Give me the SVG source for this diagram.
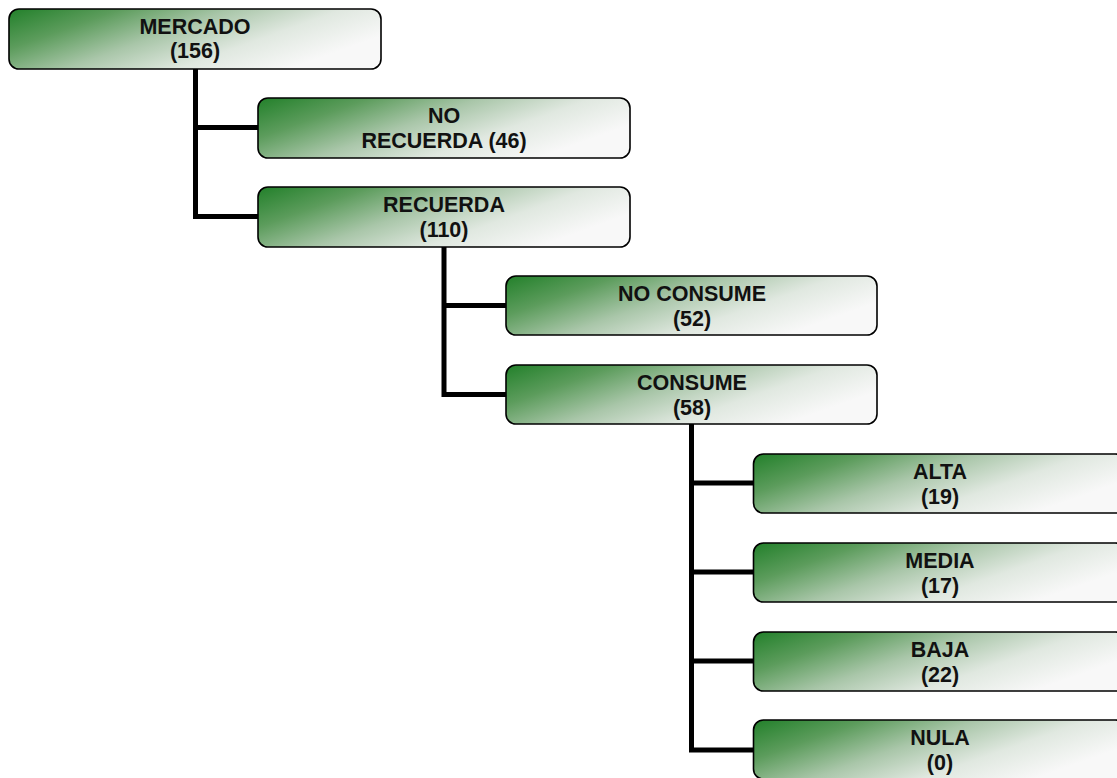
<svg xmlns="http://www.w3.org/2000/svg" width="1117" height="778" viewBox="0 0 1117 778">
  <defs>
    <linearGradient id="boxFill" x1="0" y1="0" x2="1.0" y2="0.45">
      <stop offset="0" stop-color="#22802a"/>
      <stop offset="0.25" stop-color="#5c9c5c"/>
      <stop offset="0.5" stop-color="#a9c6a9"/>
      <stop offset="0.75" stop-color="#e0e8e0"/>
      <stop offset="1" stop-color="#f8f8f8"/>
    </linearGradient>
  </defs>
  <style>
    .box { fill: url(#boxFill); stroke: #000; stroke-width: 1.6; }
    .lbl { font-family: "Liberation Sans", Arial, sans-serif; font-weight: bold; font-size: 21.5px; fill: #111; text-anchor: middle; }
    .conn { fill: none; stroke: #000; stroke-width: 5; stroke-linejoin: miter; stroke-linecap: butt; }
  </style>
  <rect width="1117" height="778" fill="#ffffff"/>

  <!-- tree connectors -->
  <g id="connectors">
    <path class="conn" d="M195.5 69 V219 M193 216.5 H259 M195.5 127.5 H259"/>
    <path class="conn" d="M444 247 V397 M441.5 394.5 H507 M444 305.5 H507"/>
    <path class="conn" d="M691.5 424 V752.5 M689 750 H754 M691.5 483 H754 M691.5 572 H754 M691.5 661 H754"/>
  </g>

  <g id="mercado">
    <rect class="box" x="9" y="9" width="372" height="60" rx="10"/>
    <text class="lbl" x="195" y="34">MERCADO</text>
    <text class="lbl" x="195" y="58">(156)</text>
  </g>
  <g id="no-recuerda">
    <rect class="box" x="258" y="98" width="372" height="60" rx="10"/>
    <text class="lbl" x="444" y="123">NO</text>
    <text class="lbl" x="444" y="147.5">RECUERDA (46)</text>
  </g>
  <g id="recuerda">
    <rect class="box" x="258" y="187" width="372" height="60" rx="10"/>
    <text class="lbl" x="444" y="212">RECUERDA</text>
    <text class="lbl" x="444" y="236.5">(110)</text>
  </g>
  <g id="no-consume">
    <rect class="box" x="506" y="276" width="371" height="59" rx="10"/>
    <text class="lbl" x="692" y="301">NO CONSUME</text>
    <text class="lbl" x="692" y="325.5">(52)</text>
  </g>
  <g id="consume">
    <rect class="box" x="506" y="365" width="371" height="59" rx="10"/>
    <text class="lbl" x="692" y="390">CONSUME</text>
    <text class="lbl" x="692" y="414.5">(58)</text>
  </g>
  <g id="alta">
    <rect class="box" x="753.5" y="454" width="372" height="59" rx="10"/>
    <text class="lbl" x="940" y="479">ALTA</text>
    <text class="lbl" x="940" y="504">(19)</text>
  </g>
  <g id="media">
    <rect class="box" x="753.5" y="543" width="372" height="59" rx="10"/>
    <text class="lbl" x="940" y="568">MEDIA</text>
    <text class="lbl" x="940" y="593">(17)</text>
  </g>
  <g id="baja">
    <rect class="box" x="753.5" y="632" width="372" height="59" rx="10"/>
    <text class="lbl" x="940" y="657">BAJA</text>
    <text class="lbl" x="940" y="682">(22)</text>
  </g>
  <g id="nula">
    <rect class="box" x="753.5" y="720" width="372" height="59" rx="10"/>
    <text class="lbl" x="940" y="745">NULA</text>
    <text class="lbl" x="940" y="770">(0)</text>
  </g>
</svg>
